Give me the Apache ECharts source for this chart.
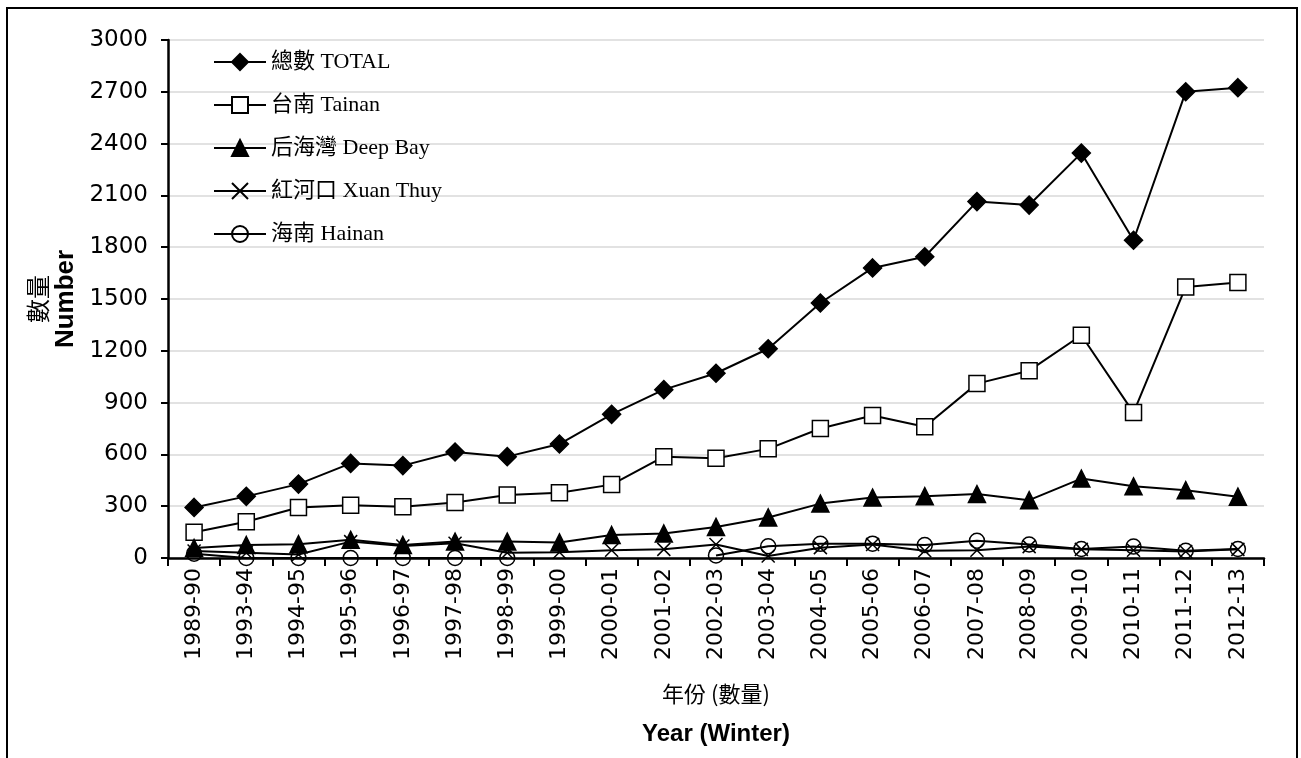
<!DOCTYPE html>
<html>
<head>
<meta charset="utf-8">
<script src="https://cdn.jsdelivr.net/npm/echarts@6/dist/echarts.min.js"></script>
<style>
  html, body { margin: 0; padding: 0; background: #fff; }
  #chart { width: 1301px; height: 758px; }
</style>
</head>
<body>
<div id="chart"></div>
<script>
// winters
const seasons = ['1989-90', '1993-94', '1994-95', '1995-96', '1996-97', '1997-98', '1998-99',
  '1999-00', '2000-01', '2001-02', '2002-03', '2003-04', '2004-05', '2005-06', '2006-07',
  '2007-08', '2008-09', '2009-10', '2010-11', '2011-12', '2012-13'];

const total = [293, 357, 428, 548, 535, 614, 587, 660, 832, 975, 1070, 1212, 1477, 1680, 1745, 2064, 2044, 2345, 1840, 2700, 2724];
const tainan = [149, 210, 292, 305, 297, 322, 365, 378, 425, 587, 578, 632, 750, 825, 760, 1010, 1085, 1290, 842, 1570, 1595];
const deepBay = [58, 75, 80, 105, 75, 95, 95, 90, 133, 142, 180, 235, 315, 350, 358, 370, 335, 460, 415, 393, 355];
const xuanThuy = [40, 30, 20, 95, 70, 85, 30, 33, 45, 50, 78, 12, 60, 78, 42, 45, 66, 50, 45, 38, 50];
const hainan = [25, 0, 0, 0, 0, 0, 0, null, null, null, 15, 68, 82, 83, 75, 100, 78, 52, 66, 42, 52];

const names = ['總數 TOTAL', '台南 Tainan', '后海灣 Deep Bay', '紅河口 Xuan Thuy', '海南 Hainan'];

let chart = echarts.init(document.getElementById('chart'));

function lineSeries(name, data, symbol, size, fill) {
  return {
    name: name,
    type: 'line',
    data: data,
    symbol: symbol,
    symbolSize: size,
    showAllSymbol: true,
    lineStyle: { color: '#000', width: 2 },
    itemStyle: { color: fill, borderColor: '#000', borderWidth: 1.5 },
    emphasis: { disabled: true }
  };
}

option = {
  animation: false,
  backgroundColor: '#fff',
  graphic: [{
    type: 'rect',
    shape: { x: 7, y: 8, width: 1290, height: 770 },
    style: { fill: 'none', stroke: '#000', lineWidth: 2 },
    silent: true
  }],
  grid: { left: 168, right: 37, top: 40, bottom: 200 },
  legend: {
    orient: 'vertical',
    left: 213,
    top: 50,
    padding: 0,
    itemWidth: 52,
    itemHeight: 20,
    itemGap: 19,
    data: names,
    textStyle: {
      fontFamily: '"Liberation Serif", "Noto Sans CJK TC", serif',
      fontSize: 22,
      lineHeight: 24,
      color: '#000',
      padding: [0, 0, 0, 0]
    }
  },
  xAxis: {
    type: 'category',
    data: seasons,
    boundaryGap: true,
    axisLine: { lineStyle: { color: '#000', width: 2.5 } },
    axisTick: { show: true, length: 8, lineStyle: { color: '#000', width: 2 } },
    axisLabel: {
      rotate: 90,
      margin: 10,
      interval: 0,
      color: '#000',
      fontFamily: '"DejaVu Sans", sans-serif',
      fontSize: 22
    },
    name: '{a|年份 (數量)}\n{b|Year (Winter)}',
    nameLocation: 'middle',
    nameGap: 116,
    nameTextStyle: {
      rich: {
        a: { fontFamily: '"Noto Sans CJK TC", sans-serif', fontSize: 22, lineHeight: 40, color: '#000' },
        b: { fontFamily: '"Liberation Sans Narrow", "Liberation Sans", sans-serif', fontWeight: 'bold', fontSize: 24, lineHeight: 40, color: '#000' }
      }
    }
  },
  yAxis: {
    type: 'value',
    min: 0,
    max: 3000,
    interval: 300,
    axisLine: { show: true, lineStyle: { color: '#000', width: 2.5 } },
    axisTick: { show: true, length: 7, lineStyle: { color: '#000', width: 2 } },
    axisLabel: {
      margin: 20,
      color: '#000',
      fontFamily: '"DejaVu Sans", sans-serif',
      fontSize: 23,
      formatter: function (v) { return String(v); }
    },
    splitLine: { lineStyle: { color: '#d9d9d9', width: 1.5 } },
    name: '{a|數量}\n{b|Number}',
    nameLocation: 'middle',
    nameRotate: 90,
    nameGap: 72,
    nameTextStyle: {
      rich: {
        a: { fontFamily: '"Noto Sans CJK TC", sans-serif', fontSize: 24, lineHeight: 28, color: '#000' },
        b: { fontFamily: '"Liberation Sans", sans-serif', fontWeight: 'bold', fontSize: 26, lineHeight: 28, color: '#000' }
      }
    }
  },
  series: [
    lineSeries(names[0], total, 'diamond', 18, '#000'),
    lineSeries(names[1], tainan, 'rect', 16, '#fff'),
    lineSeries(names[2], deepBay, 'triangle', 17, '#000'),
    lineSeries(names[3], xuanThuy, 'path://M0,0L10,10M10,0L0,10', 13, 'rgba(0,0,0,0)'),
    lineSeries(names[4], hainan, 'circle', 15, 'rgba(0,0,0,0)')
  ]
};

chart.setOption(option);
</script>
</body>
</html>
